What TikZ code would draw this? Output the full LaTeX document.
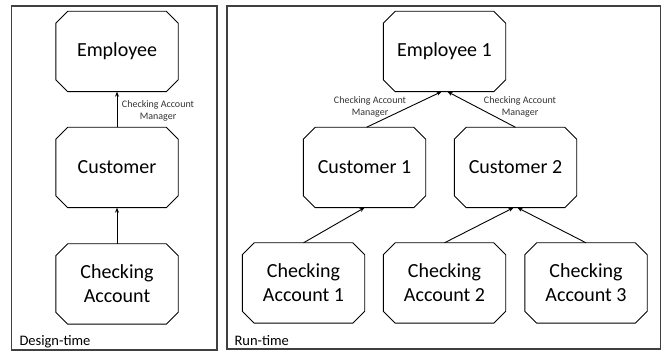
\documentclass[tikz,border=0pt]{standalone}
\usepackage{fontspec}
\setmainfont{Carlito}
\usetikzlibrary{arrows.meta}
\begin{document}
\begin{tikzpicture}[x=1pt,y=-1pt,
  octbox/.style={rectangle, draw=none, minimum width=122pt, minimum height=80pt, inner sep=0pt,
    font=\fontsize{20}{24}\selectfont, align=center},
  octline/.style={draw=black, line width=0.9pt},
  panel/.style={draw=black!75, line width=1.3pt},
  conn/.style={draw=black, line width=0.9pt, -{Stealth[length=5pt,width=4pt]}},
  lbl/.style={font=\fontsize{10}{12}\selectfont, align=center, text=black!80},
  paneltitle/.style={font=\fontsize{14.5}{16}\selectfont, anchor=base west}
]
\useasboundingbox (0,0) rectangle (662,352);
\draw[panel] (11.5,6) rectangle (217,350);
\draw[panel] (227,6) rectangle (660.5,349);
\node[paneltitle] (dt) at (16,346) {Design-time};
\node[paneltitle] (rt) at (231,346) {Run-time};
% design-time
\node[octbox] (E) at (117,51.5) {Employee};
\node[octbox] (C) at (117,167.5) {Customer};
\node[octbox] (A) at (117,284) {Checking\\Account};
% run-time
\node[octbox] (E1) at (444.5,51.5) {Employee 1};
\node[octbox] (C1) at (364.5,167.5) {Customer 1};
\node[octbox] (C2) at (515.5,167.5) {Customer 2};
\node[octbox] (A1) at (303.5,283) {Checking\\Account 1};
\node[octbox] (A2) at (444.5,283) {Checking\\Account 2};
\node[octbox] (A3) at (586,283) {Checking\\Account 3};
\foreach \n in {E,C,A,E1,C1,C2,A1,A2,A3}{
  \draw[octline] ([xshift=12pt]\n.north west) -- ([xshift=-12pt]\n.north east)
    -- ([yshift=-12pt]\n.north east) -- ([yshift=12pt]\n.south east)
    -- ([xshift=-12pt]\n.south east) -- ([xshift=12pt]\n.south west)
    -- ([yshift=12pt]\n.south west) -- ([yshift=-12pt]\n.north west) -- cycle;
}
\draw[conn] (C.north) -- (E.south);
\draw[conn] (A.north) -- (C.south);
\node[lbl] (l0) at (158,111) {Checking Account\\Manager};
\coordinate (e1l) at ([xshift=-3pt]E1.south);
\coordinate (e1r) at ([xshift=3pt]E1.south);
\coordinate (c2l) at ([xshift=-2pt]C2.south);
\coordinate (c2r) at ([xshift=2pt]C2.south);
\draw[conn] ([xshift=2pt]C1.north) -- (e1l);
\draw[conn] (C2.north) -- (e1r);
\draw[conn] (A1.north) -- (C1.south);
\draw[conn] (A2.north) -- (c2l);
\draw[conn] (A3.north) -- (c2r);
\node[lbl] (l1) at (370,107) {Checking Account\\Manager};
\node[lbl] (l2) at (520,107) {Checking Account\\Manager};
\end{tikzpicture}
\end{document}
